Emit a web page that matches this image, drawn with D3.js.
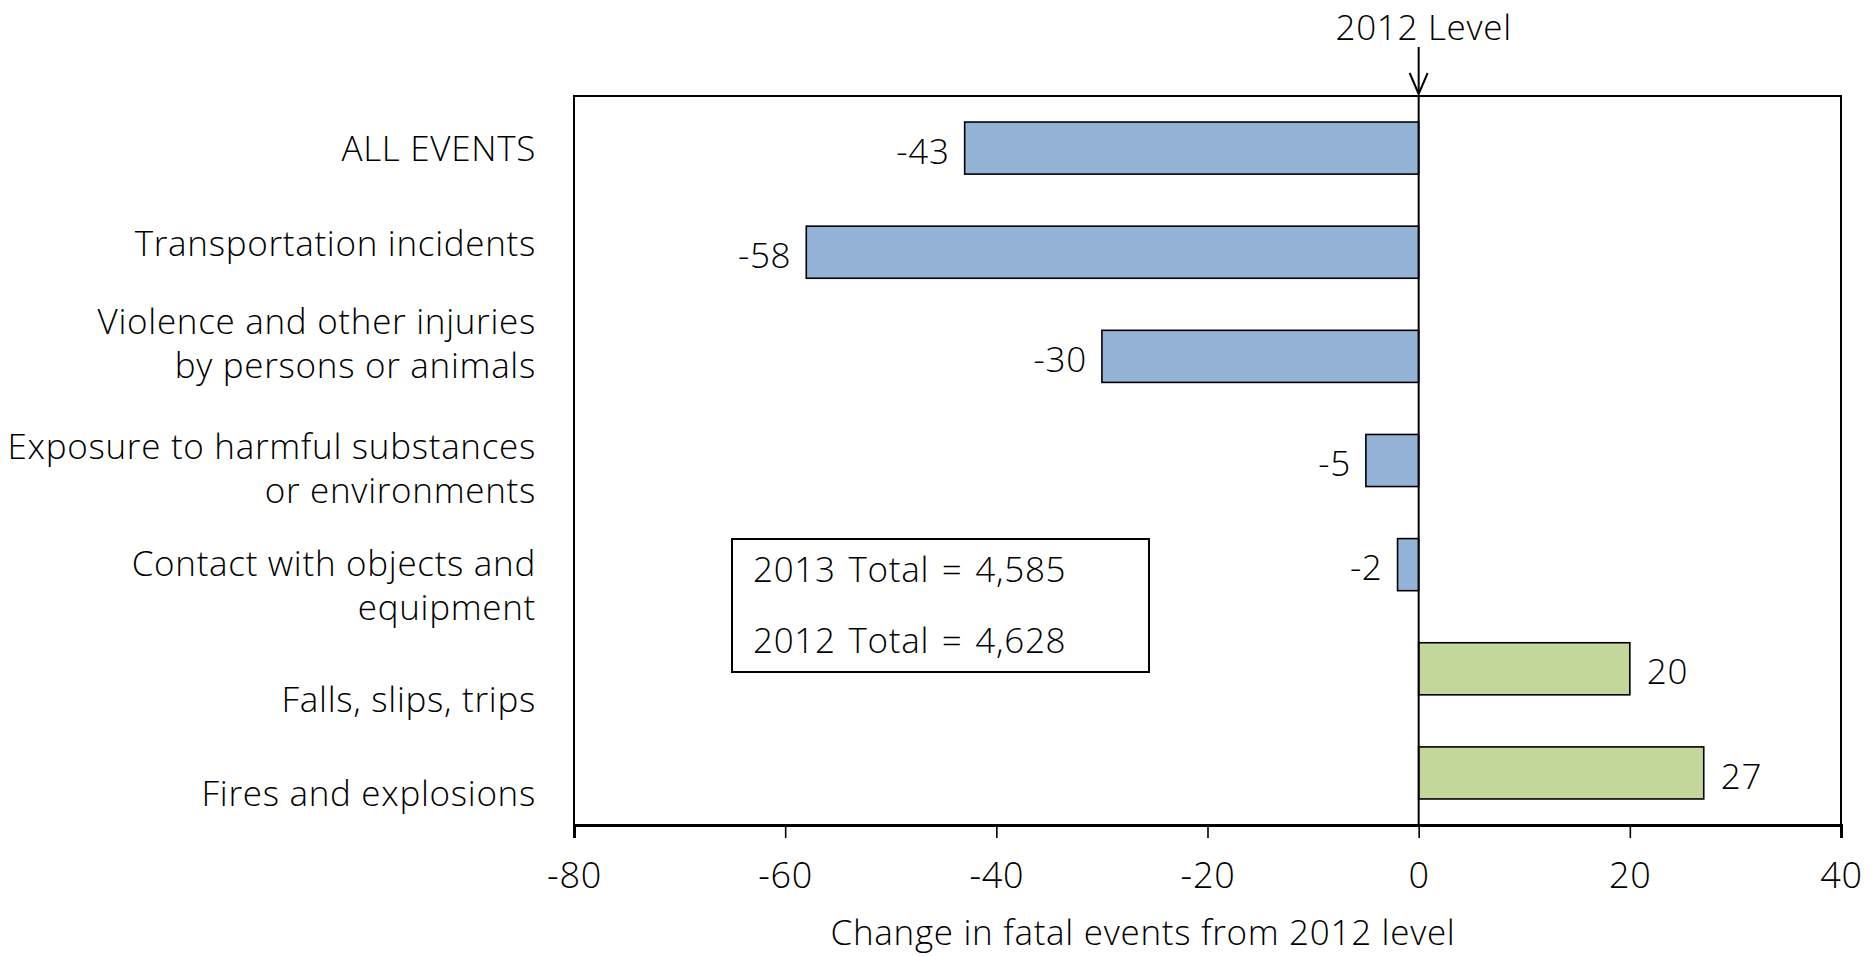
<!DOCTYPE html>
<html>
<head>
<meta charset="utf-8">
<script src="https://cdn.jsdelivr.net/npm/d3@7"></script>
<style>
  html, body { margin: 0; padding: 0; background: #fff; }
  svg { display: block; font-family: "Open Sans", "Lato", sans-serif; font-weight: 300; letter-spacing: 0.7px; }
</style>
</head>
<body>
<svg id="chart" width="1873" height="956"></svg>
<script>
// Event categories (each entry is a list of label lines)
const categories = [
  ["ALL EVENTS"],
  ["Transportation incidents"],
  ["Violence and other injuries", "by persons or animals"],
  ["Exposure to harmful substances", "or environments"],
  ["Contact with objects and", "equipment"],
  ["Falls, slips, trips"],
  ["Fires and explosions"]
];
// Change in fatal events, 2013 vs 2012
const changes = [-43, -58, -30, -5, -2, 20, 27];
const xTicks = [-80, -60, -40, -20, 0, 20, 40];
const totalsText = ["2013 Total = 4,585", "2012 Total = 4,628"];
const axisTitle = "Change in fatal events from 2012 level";
const refLabel = "2012 Level";

// small vertical nudges for the category text block
const labelNudge = [0, -9, -13, 8, 21, 31, 20];

const margin = { left: 574, right: 32, top: 96, bottom: 131 };
const W = 1873, H = 956;
const svg = d3.select("#chart");

const x = d3.scaleLinear().domain([-80, 40]).range([margin.left, W - margin.right]);
const y = d3.scaleBand().domain(d3.range(categories.length))
  .range([margin.top, H - margin.bottom]).paddingInner(0.5).paddingOuter(0.25);

const fs = 35;

// plot frame
svg.append("rect")
  .attr("x", x(-80)).attr("y", y.range()[0])
  .attr("width", x(40) - x(-80)).attr("height", y.range()[1] - y.range()[0])
  .attr("fill", "none").attr("stroke", "#000").attr("stroke-width", 2);

// bars
svg.append("g").selectAll("rect").data(changes).join("rect")
  .attr("x", d => x(Math.min(0, d)))
  .attr("width", d => Math.abs(x(d) - x(0)))
  .attr("y", (d, i) => y(i))
  .attr("height", y.bandwidth())
  .attr("fill", d => d < 0 ? "#95b3d7" : "#c4d79b")
  .attr("stroke", "#000").attr("stroke-width", 1.6);

// zero reference line
svg.append("line")
  .attr("x1", x(0)).attr("x2", x(0))
  .attr("y1", y.range()[0]).attr("y2", y.range()[1])
  .attr("stroke", "#000").attr("stroke-width", 2);

// value labels
svg.append("g").selectAll("text").data(changes).join("text")
  .attr("x", d => d < 0 ? x(d) - 15 : x(d) + 17)
  .attr("y", (d, i) => y(i) + y.bandwidth() / 2 + 3)
  .attr("dy", "0.36em")
  .attr("text-anchor", d => d < 0 ? "end" : "start")
  .attr("font-size", fs)
  .text(d => d);

// bottom axis
const xAxis = d3.axisBottom(x).tickValues(xTicks).tickSize(13)
  .tickFormat(d => String(d));
const gx = svg.append("g")
  .attr("transform", `translate(0,${y.range()[1]})`)
  .call(xAxis);
gx.attr("font-family", null).attr("font-size", null);
gx.select(".domain").attr("stroke-width", 3);
gx.selectAll(".tick line").attr("stroke-width", 1.6);
gx.selectAll(".tick text").attr("font-size", 36)
  .attr("fill", "#000").attr("y", 50).attr("dy", "0.36em");

// axis title
svg.append("text")
  .attr("x", 1143).attr("y", 932)
  .attr("dy", "0.36em")
  .attr("text-anchor", "middle").attr("font-size", fs)
  .text(axisTitle);

// category labels
const lineGap = 44;
const cat = svg.append("g").selectAll("text").data(categories).join("text")
  .attr("text-anchor", "end")
  .attr("font-size", fs)
  .attr("transform", (d, i) => {
    const cy = y(i) + y.bandwidth() / 2 + labelNudge[i] - (d.length - 1) * lineGap / 2;
    return `translate(536,${cy})`;
  });
cat.selectAll("tspan").data(d => d).join("tspan")
  .attr("x", 0)
  .attr("y", (d, j) => j * lineGap)
  .attr("dy", "0.36em")
  .text(d => d);

// "2012 Level" arrow
svg.append("text")
  .attr("x", x(0) + 5).attr("y", 27)
  .attr("dy", "0.36em")
  .attr("text-anchor", "middle").attr("font-size", fs)
  .text(refLabel);
svg.append("line")
  .attr("x1", x(0)).attr("x2", x(0)).attr("y1", 47).attr("y2", 94)
  .attr("stroke", "#000").attr("stroke-width", 2);
svg.append("path")
  .attr("d", `M${x(0) - 9},${73} L${x(0)},${94} L${x(0) + 9},${73}`)
  .attr("fill", "none").attr("stroke", "#000").attr("stroke-width", 2);

// totals box
const box = svg.append("g").attr("transform", "translate(732,539)");
box.append("rect").attr("width", 417).attr("height", 133)
  .attr("fill", "#fff").attr("stroke", "#000").attr("stroke-width", 2);
box.selectAll("text").data(totalsText).join("text")
  .attr("x", 21).attr("y", (d, i) => 30 + i * 71)
  .attr("dy", "0.36em")
  .attr("font-size", fs)
  .attr("word-spacing", 3)
  .text(d => d);
</script>
</body>
</html>
